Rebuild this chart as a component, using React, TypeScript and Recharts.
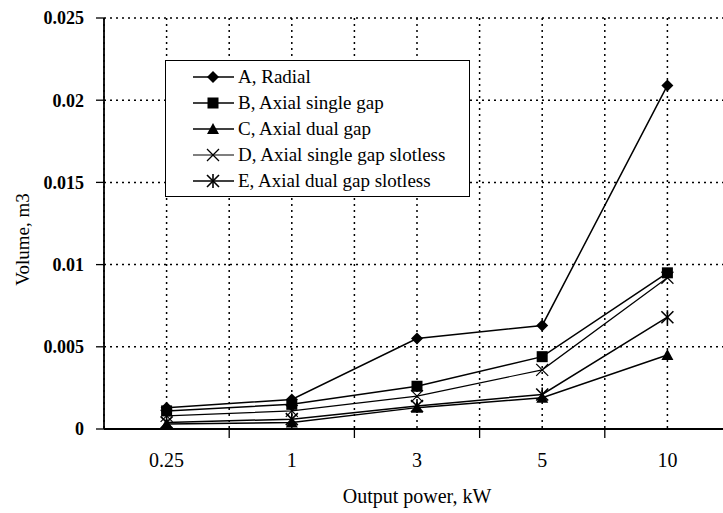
import { LineChart, Line, XAxis, YAxis, CartesianGrid, Legend } from 'recharts';

const categories = ['0.25', '1', '3', '5', '10'];
const radial = [0.0013, 0.0018, 0.0055, 0.0063, 0.0209];
const axialSingle = [0.0011, 0.0015, 0.0026, 0.0044, 0.0095];
const axialDual = [0.0003, 0.0004, 0.0013, 0.0019, 0.0045];
const axialSingleSlotless = [0.0008, 0.0011, 0.0020, 0.0036, 0.0092];
const axialDualSlotless = [0.0004, 0.0006, 0.0014, 0.0021, 0.0068];
const yTicks = [0, 0.005, 0.01, 0.015, 0.02, 0.025];

const FONT = '"Liberation Serif", "Times New Roman", serif';

const data = categories.map((name, i) => ({
  name,
  pos: i + 0.5,
  A: radial[i],
  B: axialSingle[i],
  C: axialDual[i],
  D: axialSingleSlotless[i],
  E: axialDualSlotless[i],
}));

// ticks on every half step: centres carry labels, boundaries carry tick marks
const xTicks = [...categories.flatMap((_, i) => [i, i + 0.5]), categories.length];

type MarkerKind = 'diamond' | 'square' | 'triangle' | 'cross' | 'star';

function Marker({ kind, cx, cy }: { kind: MarkerKind; cx: number; cy: number }) {
  const r = 6;
  if (kind === 'diamond')
    return <polygon points={`${cx},${cy - r} ${cx + r},${cy} ${cx},${cy + r} ${cx - r},${cy}`} fill="#000" />;
  if (kind === 'square') return <rect x={cx - 5.5} y={cy - 5.5} width={11} height={11} fill="#000" />;
  if (kind === 'triangle')
    return <polygon points={`${cx},${cy - 6} ${cx + 6},${cy + 5} ${cx - 6},${cy + 5}`} fill="#000" />;
  if (kind === 'cross')
    return (
      <g stroke="#000" strokeWidth={1.2}>
        <line x1={cx - r} y1={cy - r} x2={cx + r} y2={cy + r} />
        <line x1={cx - r} y1={cy + r} x2={cx + r} y2={cy - r} />
      </g>
    );
  return (
    <g stroke="#000" strokeWidth={1.6}>
      <line x1={cx - r} y1={cy - r} x2={cx + r} y2={cy + r} />
      <line x1={cx - r} y1={cy + r} x2={cx + r} y2={cy - r} />
      <line x1={cx} y1={cy - r - 1} x2={cx} y2={cy + r + 1} />
    </g>
  );
}

const SERIES: { key: string; name: string; kind: MarkerKind; width: number }[] = [
  { key: 'A', name: 'A, Radial', kind: 'diamond', width: 1.5 },
  { key: 'B', name: 'B, Axial single gap', kind: 'square', width: 1.5 },
  { key: 'C', name: 'C, Axial dual gap', kind: 'triangle', width: 1.5 },
  { key: 'D', name: 'D, Axial single gap slotless', kind: 'cross', width: 1.2 },
  { key: 'E', name: 'E, Axial dual gap slotless', kind: 'star', width: 1.5 },
];

function XTick(props: any) {
  const { x, y, payload } = props;
  const v = payload.value as number;
  const axisY = y - 8;
  if (Number.isInteger(v)) {
    if (v === 0) return <g />;
    return <line x1={x} y1={axisY} x2={x} y2={axisY + 9} stroke="#000" strokeWidth={1.3} />;
  }
  return (
    <text x={x} y={axisY + 38} textAnchor="middle" fontFamily={FONT} fontSize={20} fill="#000">
      {categories[Math.floor(v)]}
    </text>
  );
}

function YTitle(props: any) {
  const vb = props.viewBox;
  const cx = 22;
  const cy = vb.y + vb.height / 2 + 16;
  return (
    <text
      x={cx}
      y={cy}
      transform={`rotate(-90 ${cx} ${cy})`}
      textAnchor="middle"
      dominantBaseline="central"
      fontFamily={FONT}
      fontSize={19}
      fill="#000"
    >
      Volume, m3
    </text>
  );
}

function LegendBox() {
  return (
    <div
      style={{
        width: 305,
        height: 137,
        boxSizing: 'border-box',
        border: '1.5px solid #000',
        background: '#fff',
        paddingTop: 3,
        fontFamily: FONT,
        fontSize: 19,
        color: '#000',
      }}
    >
      {SERIES.map((s) => (
        <div key={s.key} style={{ height: 26, display: 'flex', alignItems: 'center' }}>
          <svg width={70} height={26} style={{ flex: 'none' }}>
            <line x1={27} y1={13} x2={68} y2={13} stroke="#000" strokeWidth={s.width} />
            <Marker kind={s.kind} cx={47} cy={13} />
          </svg>
          <span style={{ marginLeft: 2, whiteSpace: 'nowrap' }}>{s.name}</span>
        </div>
      ))}
    </div>
  );
}

export default function App() {
  return (
    <div style={{ position: 'absolute', left: 0, top: 0, width: 723, height: 513, overflow: 'hidden', background: '#fff' }}>
      <LineChart width={732} height={513} data={data} margin={{ top: 18, right: 2, left: 14, bottom: 0 }}>
        <CartesianGrid stroke="#000" strokeWidth={1.5} strokeDasharray="2 4" />
        <XAxis
          dataKey="pos"
          type="number"
          domain={[0, categories.length]}
          ticks={xTicks}
          interval={0}
          tickLine={false}
          tick={<XTick />}
          axisLine={{ stroke: '#000', strokeWidth: 1.8 }}
          height={84}
          label={{
            value: 'Output power, kW',
            position: 'insideBottom',
            offset: 10,
            fill: '#000',
            fontFamily: FONT,
            fontSize: 20,
          }}
        />
        <YAxis
          type="number"
          domain={[0, 0.025]}
          ticks={yTicks}
          interval={0}
          width={90}
          tickSize={8}
          tickMargin={12}
          tickFormatter={(v: number) => String(v)}
          tick={{ fill: '#000', fontFamily: FONT, fontSize: 18, fontWeight: 'bold' }}
          tickLine={{ stroke: '#000', strokeWidth: 1.3 }}
          axisLine={{ stroke: '#000', strokeWidth: 1.8 }}
          label={<YTitle />}
        />
        <Legend
          content={<LegendBox />}
          layout="vertical"
          verticalAlign="middle"
          align="center"
          wrapperStyle={{ position: 'absolute', left: 165, top: 60, width: 305, height: 137 }}
        />
        {SERIES.map((s) => (
          <Line
            key={s.key}
            dataKey={s.key}
            name={s.name}
            stroke="#000"
            strokeWidth={s.width}
            isAnimationActive={false}
            dot={(p: any) => <Marker key={`${s.key}-${p.index}`} kind={s.kind} cx={p.cx} cy={p.cy} />}
            activeDot={false}
          />
        ))}
      </LineChart>
    </div>
  );
}
